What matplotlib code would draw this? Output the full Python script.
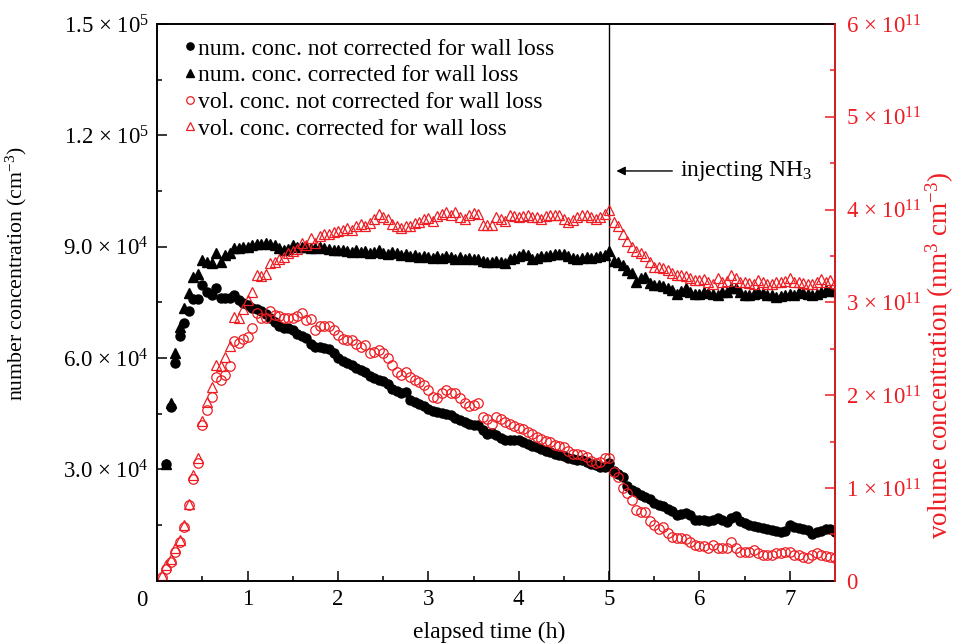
import numpy as np
import matplotlib
matplotlib.use("Agg")
import matplotlib.pyplot as plt

plt.rcParams['font.family'] = ['Liberation Serif', 'DejaVu Serif']
plt.rcParams['mathtext.fontset'] = 'custom'
plt.rcParams['mathtext.rm'] = 'Liberation Serif'
plt.rcParams['mathtext.it'] = 'Liberation Serif:italic'
plt.rcParams['mathtext.bf'] = 'Liberation Serif:bold'

RED = '#ee1d23'
nan = float('nan')

# number concentration, units of 1e4 cm^-3 (sampled every 0.05 h starting at 0.05 h)
num_not_corr = [
    nan, 3.15, 4.68, 5.87, 6.59, 6.94, 7.27, 7.58, 7.58, 7.97,
    7.79, 7.70, 7.88, 7.61, 7.61, 7.62, 7.70, 7.55, 7.48, 7.43,
    7.36, 7.31, 7.28, 7.18, 7.08, 6.98, 6.86, 6.82, 6.80, 6.75,
    6.66, 6.60, 6.54, 6.38, 6.30, 6.30, 6.28, 6.24, 6.13, 6.00,
    5.92, 5.86, 5.82, 5.74, 5.67, 5.62, 5.52, 5.46, 5.42, 5.38,
    5.30, 5.16, 5.10, 5.06, 5.08, 4.88, 4.81, 4.76, 4.72, 4.62,
    4.57, 4.54, 4.51, 4.49, 4.46, 4.39, 4.32, 4.28, 4.21, 4.20,
    4.19, 4.06, 3.96, 3.98, 3.92, 3.85, 3.80, 3.80, 3.79, 3.78,
    3.74, 3.68, 3.62, 3.60, 3.55, 3.50, 3.47, 3.42, 3.38, 3.35,
    3.31, 3.29, 3.26, 3.24, 3.20, 3.15, 3.11, 3.07, 3.06, 3.17,
    2.96, 2.88, 2.80, 2.55, 2.45, 2.40, 2.31, 2.26, 2.20, 2.10,
    2.05, 2.00, 1.94, 1.88, 1.78, 1.80, 1.82, 1.78, 1.64, 1.63,
    1.63, 1.60, 1.64, 1.70, 1.64, 1.59, 1.68, 1.73, 1.60, 1.55,
    1.50, 1.47, 1.45, 1.42, 1.40, 1.37, 1.34, 1.32, 1.34, 1.50,
    1.46, 1.42, 1.38, 1.37, 1.26, 1.30, 1.33, 1.40, 1.38, 1.32,
]
num_corr = [
    nan, 3.15, 4.79, 6.13, 6.84, 7.35, 7.75, 8.19, 8.26, 8.64,
    8.60, 8.56, 8.83, 8.60, 8.78, 8.83, 8.96, 8.96, 8.98, 9.00,
    9.05, 9.07, 9.07, 9.10, 9.08, 9.05, 8.96, 8.91, 8.95, 9.05,
    9.00, 9.00, 8.99, 8.96, 8.97, 9.00, 8.96, 8.95, 8.91, 8.90,
    8.92, 8.88, 8.86, 8.90, 8.85, 8.88, 8.83, 8.86, 8.90, 8.84,
    8.80, 8.86, 8.82, 8.78, 8.80, 8.74, 8.78, 8.72, 8.76, 8.72,
    8.70, 8.74, 8.70, 8.76, 8.72, 8.68, 8.72, 8.66, 8.70, 8.66,
    8.66, 8.62, 8.60, 8.60, 8.62, 8.58, 8.57, 8.68, 8.70, 8.76,
    8.80, 8.78, 8.67, 8.70, 8.74, 8.75, 8.78, 8.80, 8.80, 8.80,
    8.76, 8.70, 8.67, 8.70, 8.72, 8.70, 8.73, 8.75, 8.77, 8.88,
    8.62, 8.58, 8.50, 8.38, 8.28, 8.05, 8.15, 8.19, 8.01, 7.98,
    7.97, 7.94, 7.90, 7.82, 7.72, 7.80, 7.88, 7.78, 7.72, 7.73,
    7.79, 7.76, 7.72, 7.70, 7.78, 7.79, 7.88, 7.90, 7.78, 7.70,
    7.69, 7.72, 7.78, 7.74, 7.70, 7.70, 7.65, 7.68, 7.70, 7.72,
    7.71, 7.78, 7.76, 7.72, 7.70, 7.72, 7.78, 7.82, 7.80, 7.80,
]
# volume concentration, units of 1e11 nm^3 cm^-3
vol_not_corr = [
    0.04, 0.13, 0.20, 0.31, 0.42, 0.58, 0.82, 1.10, 1.27, 1.68,
    1.84, 1.98, 2.20, 2.16, 2.22, 2.31, 2.58, 2.56, 2.61, 2.63,
    2.72, 2.89, 2.83, 2.83, 2.91, 2.86, 2.85, 2.83, 2.83, 2.83,
    2.85, 2.88, 2.81, 2.82, 2.70, 2.74, 2.74, 2.74, 2.70, 2.65,
    2.60, 2.59, 2.59, 2.55, 2.52, 2.54, 2.45, 2.47, 2.49, 2.45,
    2.40, 2.32, 2.25, 2.22, 2.25, 2.20, 2.16, 2.14, 2.11, 2.06,
    1.98, 1.97, 2.02, 2.06, 2.02, 2.02, 1.97, 1.91, 1.88, 1.89,
    1.91, 1.76, 1.74, 1.69, 1.76, 1.74, 1.71, 1.69, 1.67, 1.65,
    1.64, 1.60, 1.58, 1.55, 1.53, 1.51, 1.49, 1.46, 1.45, 1.44,
    1.40, 1.37, 1.37, 1.35, 1.33, 1.29, 1.27, 1.28, 1.32, 1.32,
    1.17, 1.12, 1.00, 0.94, 0.87, 0.76, 0.74, 0.74, 0.64, 0.60,
    0.56, 0.58, 0.51, 0.47, 0.46, 0.46, 0.45, 0.42, 0.38, 0.37,
    0.37, 0.35, 0.38, 0.35, 0.35, 0.35, 0.42, 0.35, 0.31, 0.31,
    0.31, 0.33, 0.30, 0.28, 0.28, 0.28, 0.30, 0.30, 0.31, 0.31,
    0.28, 0.28, 0.26, 0.24, 0.28, 0.30, 0.28, 0.27, 0.26, 0.24,
]
vol_corr = [
    0.06, 0.17, 0.23, 0.35, 0.44, 0.60, 0.83, 1.14, 1.32, 1.72,
    1.93, 2.09, 2.32, 2.31, 2.41, 2.53, 2.84, 2.83, 2.93, 3.02,
    3.11, 3.30, 3.28, 3.31, 3.42, 3.44, 3.47, 3.49, 3.53, 3.55,
    3.58, 3.64, 3.62, 3.69, 3.64, 3.71, 3.74, 3.74, 3.76, 3.77,
    3.78, 3.80, 3.78, 3.82, 3.84, 3.82, 3.86, 3.90, 3.95, 3.92,
    3.90, 3.84, 3.82, 3.80, 3.82, 3.82, 3.86, 3.87, 3.90, 3.91,
    3.88, 3.93, 3.95, 3.97, 3.94, 3.97, 3.92, 3.90, 3.94, 3.96,
    3.95, 3.83, 3.83, 3.83, 3.92, 3.90, 3.88, 3.94, 3.93, 3.92,
    3.93, 3.94, 3.92, 3.92, 3.90, 3.93, 3.94, 3.94, 3.94, 3.90,
    3.87, 3.89, 3.92, 3.94, 3.94, 3.92, 3.90, 3.92, 3.95, 4.00,
    3.87, 3.82, 3.74, 3.66, 3.60, 3.55, 3.53, 3.50, 3.44, 3.38,
    3.38, 3.37, 3.35, 3.32, 3.29, 3.29, 3.28, 3.26, 3.24, 3.24,
    3.25, 3.22, 3.20, 3.26, 3.22, 3.23, 3.30, 3.26, 3.22, 3.22,
    3.21, 3.20, 3.24, 3.22, 3.20, 3.20, 3.22, 3.22, 3.23, 3.26,
    3.22, 3.22, 3.21, 3.20, 3.20, 3.22, 3.25, 3.22, 3.24, 3.21,
]
sample_step_h = 0.05
x_ticks = [0, 1, 2, 3, 4, 5, 6, 7]
left_ticks = [3.0e4, 6.0e4, 9.0e4, 1.2e5, 1.5e5]
left_ticklabels = ['3.0 \u00d7 10$^{4}$', '6.0 \u00d7 10$^{4}$', '9.0 \u00d7 10$^{4}$',
                   '1.2 \u00d7 10$^{5}$', '1.5 \u00d7 10$^{5}$']
right_ticks = [0, 1e11, 2e11, 3e11, 4e11, 5e11, 6e11]
right_ticklabels = ['0'] + ['%d \u00d7 10$^{11}$' % i for i in range(1, 7)]
inject_time = 5.0

def times(n):
    return sample_step_h * np.arange(1, n + 1)

W, H = 959, 643
fig = plt.figure(figsize=(W / 100, H / 100), dpi=100)
L, R, B, T = 157.3, 835.0, 580.7, 24.0
ax = fig.add_axes([L / W, 1 - B / H, (R - L) / W, (B - T) / H])
ax2 = ax.twinx()

ms_dot = 6.5
h1, = ax.plot(times(len(num_not_corr)), np.array(num_not_corr) * 1e4, ls='none', marker='o',
              ms=ms_dot, color='black', mec='black', label='num. conc. not corrected for wall loss')
h2, = ax.plot(times(len(num_corr)), np.array(num_corr) * 1e4, ls='none', marker='^',
              ms=ms_dot + 1.0, color='black', mec='black', label='num. conc. corrected for wall loss')
h3, = ax2.plot(times(len(vol_not_corr)), np.array(vol_not_corr) * 1e11, ls='none', marker='o',
               ms=ms_dot + 0.3, mfc='none', mec=RED, mew=0.9, label='vol. conc. not corrected for wall loss')
h4, = ax2.plot(times(len(vol_corr)), np.array(vol_corr) * 1e11, ls='none', marker='^',
               ms=ms_dot + 1.4, mfc='none', mec=RED, mew=0.9, label='vol. conc. corrected for wall loss')

ax.set_xlim(0, 7.5)
ax.set_ylim(0, 1.5e5)
ax2.set_ylim(0, 6e11)

fs_tick = 16.5
fs = 17
ax.set_xticks(x_ticks)
ax.set_xticklabels([''] + [str(v) for v in x_ticks[1:]], fontsize=fs_tick)
ax.set_xticks(np.arange(0.5, 7.5, 1.0), minor=True)
ax.set_yticks(left_ticks)
ax.set_yticklabels(left_ticklabels, fontsize=fs_tick)
ax.set_yticks(np.arange(1.5e4, 1.5e5, 3e4), minor=True)
ax2.set_yticks(right_ticks)
ax2.set_yticklabels(right_ticklabels, fontsize=fs_tick, color=RED)
ax2.set_yticks(np.arange(0.5e11, 6e11, 1e11), minor=True)

ax.tick_params(axis='x', which='major', direction='in', length=7.5, width=1.1, pad=6, top=False)
ax.tick_params(axis='x', which='minor', direction='in', length=3.8, width=1.1, top=False)
ax.tick_params(axis='y', which='major', direction='in', length=7.5, width=1.1, pad=6, right=False)
ax.tick_params(axis='y', which='minor', direction='in', length=3.8, width=1.1, right=False)
ax2.tick_params(axis='y', which='major', direction='in', length=7.5, width=1.1, pad=8, colors=RED)
ax2.tick_params(axis='y', which='minor', direction='in', length=3.8, width=1.1, colors=RED)

for a in (ax, ax2):
    for s in a.spines.values():
        s.set_linewidth(1.2)
ax2.spines['right'].set_color(RED)
ax2.spines['right'].set_zorder(5)

ax.annotate('0', xy=(0, 0), xycoords='axes fraction', xytext=(-11.5, -14), textcoords='offset points',
            ha='center', va='center', fontsize=fs_tick)

ax.set_xlabel('elapsed time (h)', fontsize=fs)
ax.set_ylabel(r'number concentration (cm$^{-3}$)', fontsize=15.7)
ax2.set_ylabel(r'volume concentration (nm$^{3}$ cm$^{-3}$)', fontsize=19.5, color=RED, rotation=90)
ax.yaxis.set_label_coords(-0.19, 0.551)
ax2.yaxis.set_label_coords(1.131, 0.404)
ax.xaxis.set_label_coords(0.49, -0.074)

ax.axvline(inject_time, color='black', lw=1.0, zorder=1)
ax.annotate('', xy=(inject_time + 0.05, 1.104e5), xytext=(inject_time + 0.73, 1.104e5),
            arrowprops=dict(arrowstyle='-|>', color='black', lw=1.0, mutation_scale=13))
ax.text(inject_time + 0.79, 1.104e5, r'injecting NH$_3$', fontsize=fs, va='center', ha='left')

leg = ax2.legend(handles=[h1, h2, h3, h4], loc='upper left', bbox_to_anchor=(184 / W, 1 - 38 / H),
                 bbox_transform=fig.transFigure, frameon=False, fontsize=fs, handlelength=0.5,
                 handletextpad=0.08, labelspacing=0.22, borderpad=0, borderaxespad=0, markerscale=0.8)

fig.savefig('out.png', dpi=100)
